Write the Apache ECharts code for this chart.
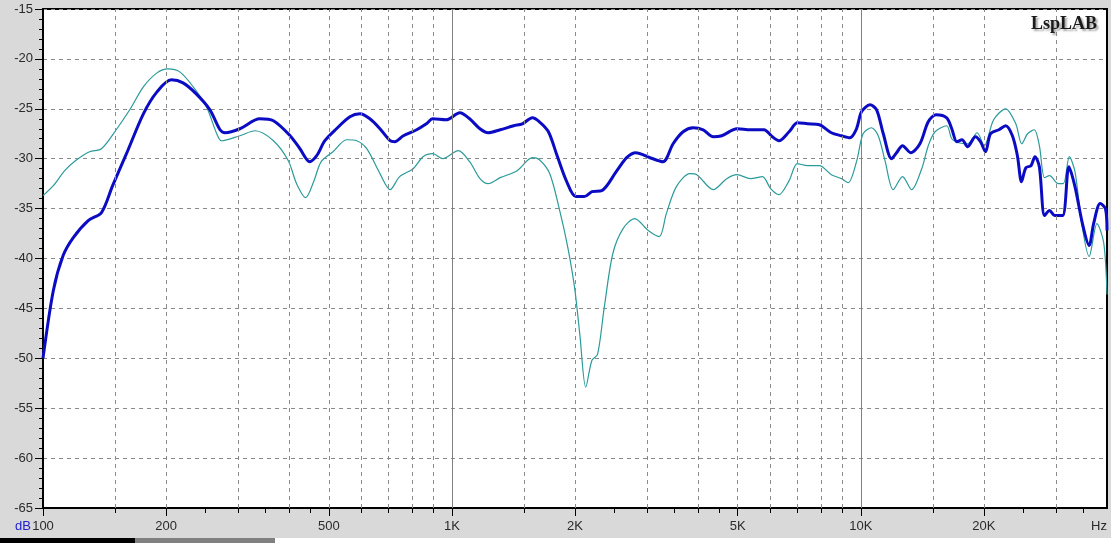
<!DOCTYPE html>
<html>
<head>
<meta charset="utf-8">
<script src="https://cdn.jsdelivr.net/npm/echarts@6/dist/echarts.min.js"></script>
<style>
  html, body { margin: 0; padding: 0; background: #d9d9d9; }
  #chart { width: 1111px; height: 543px; }
</style>
</head>
<body>
<div id="chart"></div>
<script>
// measured response, thick blue trace
const blueFreq = [100, 106, 112, 118.6, 129, 139, 148, 160, 176, 190, 206, 220, 237, 256, 271, 279, 303, 339, 366, 402, 425, 449, 467, 489, 522, 563, 596, 630, 667, 706, 725, 761, 820, 866, 898, 968, 1046, 1105, 1171, 1226, 1312, 1416, 1487, 1573, 1637, 1722, 1805, 1904, 2010, 2106, 2201, 2325, 2532, 2675, 2816, 3051, 3283, 3475, 3676, 3891, 4116, 4356, 4570, 4980, 5370, 5797, 6075, 6307, 6678, 6998, 7410, 7920, 8470, 8970, 9400, 9760, 10040, 10530, 10930, 11350, 11890, 12230, 12650, 13240, 13950, 14620, 15270, 16220, 16690, 17180, 17680, 18250, 19070, 19620, 20180, 20760, 21760, 22600, 23480, 24150, 24720, 25330, 26070, 26660, 27330, 28140, 28950, 29800, 31150, 32280, 33400, 34830, 36170, 37100, 38500, 39650, 40000]
const blueDb = [-50.0, -43.2, -39.7, -37.9, -36.2, -35.4, -32.7, -29.5, -25.5, -23.3, -22.1, -22.4, -23.5, -25.1, -27.1, -27.4, -27.0, -26.0, -26.2, -27.7, -29.0, -30.3, -29.7, -28.2, -27.0, -25.8, -25.5, -26.0, -27.0, -28.2, -28.3, -27.7, -27.1, -26.5, -26.0, -26.1, -25.4, -26.0, -27.0, -27.4, -27.1, -26.7, -26.5, -25.9, -26.3, -27.3, -29.6, -32.2, -33.8, -33.8, -33.3, -33.2, -31.2, -29.9, -29.4, -29.9, -30.3, -28.5, -27.3, -26.9, -27.1, -27.8, -27.7, -27.0, -27.1, -27.1, -27.8, -28.2, -27.3, -26.4, -26.5, -26.6, -27.4, -27.7, -27.9, -27.0, -25.3, -24.6, -25.1, -27.5, -30.0, -29.4, -28.7, -29.4, -28.5, -26.3, -25.6, -25.9, -27.0, -28.3, -28.1, -28.8, -27.8, -28.3, -29.3, -27.5, -27.1, -26.7, -27.7, -29.7, -32.3, -30.9, -30.7, -29.8, -30.8, -35.7, -35.2, -35.7, -35.7, -30.8, -32.8, -36.5, -38.7, -36.5, -34.5, -35.0, -37.2]

// measured response, thin teal trace
const tealFreq = [100, 106, 113, 120, 130, 139, 151, 163, 176, 190, 202, 216, 233, 251, 266, 273, 303, 330, 366, 398, 417, 439, 460, 479, 512, 553, 585, 619, 667, 706, 745, 804, 850, 898, 950, 1036, 1105, 1171, 1226, 1312, 1444, 1573, 1637, 1735, 1835, 1921, 1995, 2055, 2125, 2200, 2271, 2358, 2475, 2622, 2800, 3020, 3213, 3345, 3540, 3820, 3970, 4356, 4700, 4980, 5370, 5745, 6018, 6307, 6678, 6998, 7410, 7920, 8470, 8970, 9310, 9760, 10130, 10620, 11030, 11460, 12000, 12650, 13310, 14090, 14620, 15190, 16220, 16690, 17350, 18250, 19250, 20030, 21130, 22600, 23930, 24750, 25580, 26560, 27330, 28140, 28950, 30390, 31270, 32360, 33400, 34690, 36170, 37800, 39260, 40000]
const tealDb = [-33.7, -32.7, -31.2, -30.2, -29.3, -29.0, -27.1, -25.1, -22.8, -21.4, -21.0, -21.3, -22.8, -24.8, -27.5, -28.2, -27.7, -27.2, -28.2, -30.2, -32.5, -33.9, -32.2, -30.3, -29.3, -28.1, -28.2, -29.0, -31.5, -33.1, -31.8, -31.0, -29.8, -29.5, -30.0, -29.2, -30.3, -32.0, -32.5, -31.9, -31.2, -29.9, -30.1, -31.5, -35.2, -38.9, -42.9, -47.6, -52.9, -50.2, -49.6, -44.9, -39.5, -37.0, -36.0, -37.2, -37.8, -35.5, -32.8, -31.5, -31.6, -33.1, -32.0, -31.6, -32.0, -31.8, -33.0, -33.6, -32.2, -30.5, -30.7, -30.7, -31.6, -32.0, -32.4, -30.3, -27.5, -26.9, -27.7, -30.2, -33.1, -31.8, -33.1, -31.0, -28.7, -27.3, -26.7, -28.0, -28.4, -28.5, -27.4, -28.7, -26.1, -25.0, -26.5, -28.5, -27.5, -27.1, -28.7, -31.9, -31.7, -32.5, -32.5, -29.8, -31.3, -36.5, -39.8, -36.5, -38.4, -43.6]

// axis furniture
const labelFreqs = [100, 200, 500, 1000, 2000, 5000, 10000, 20000]
const tickFreqs = [150, 250, 300, 350, 400, 450, 600, 700, 800, 900, 1500, 2500, 3000, 3500, 4000, 4500, 6000, 7000, 8000, 9000, 15000, 25000, 30000, 35000]
const gridFreqs = [150, 200, 300, 400, 500, 600, 700, 800, 900, 1500, 2000, 3000, 4000, 5000, 6000, 7000, 8000, 9000, 15000, 20000, 30000]
const decadeFreqs = [1000, 10000]

const chart = echarts.init(document.getElementById('chart'), null, { renderer: 'canvas' })

const pairs = (xs, ys) => xs.map((x, i) => [x, ys[i]])

const fmtHz = v => (v >= 1000 ? (v / 1000) + 'K' : String(v))

const baseX = {
  type: 'log',
  logBase: 10,
  min: 100,
  max: 40000,
  position: 'bottom',
  splitLine: { show: false },
  minorTick: { show: false },
  minorSplitLine: { show: false }
}

chart.setOption({
  backgroundColor: '#d9d9d9',
  animation: false,
  textStyle: { fontFamily: 'Liberation Sans, Arial, sans-serif' },
  grid: {
    left: 43,
    right: 4,
    top: 9,
    bottom: 35,
    show: true,
    backgroundColor: '#ffffff',
    borderColor: '#000000',
    borderWidth: 2
  },
  xAxis: [
    Object.assign({}, baseX, {
      axisLine: { show: true, onZero: false, lineStyle: { color: '#000', width: 2 } },
      axisTick: {
        show: true,
        length: 8,
        customValues: labelFreqs,
        lineStyle: { color: '#000', width: 1 }
      },
      axisLabel: {
        customValues: labelFreqs,
        formatter: fmtHz,
        color: '#2a2a2a',
        fontSize: 13,
        margin: 12
      }
    }),
    Object.assign({}, baseX, {
      axisLine: { show: false, onZero: false },
      axisTick: {
        show: true,
        length: 5,
        customValues: tickFreqs,
        lineStyle: { color: '#000', width: 1 }
      },
      axisLabel: { show: false }
    })
  ],
  yAxis: {
    type: 'value',
    min: -65,
    max: -15,
    interval: 5,
    axisLine: { show: true, lineStyle: { color: '#000', width: 2 } },
    axisTick: { show: true, length: 8, lineStyle: { color: '#000' } },
    minorTick: { show: true, splitNumber: 5, length: 4, lineStyle: { color: '#000' } },
    axisLabel: { color: '#2a2a2a', fontSize: 13, margin: 10 },
    splitLine: { show: true, lineStyle: { color: '#8a8a8a', type: [4, 4], width: 1 } }
  },
  graphic: [
    {
      type: 'text',
      right: 14,
      top: 15,
      style: {
        text: 'LspLAB',
        font: 'bold 18px "Liberation Serif", "DejaVu Serif", serif',
        fill: '#1a1a1a',
        textShadowColor: 'rgba(0,0,0,0.35)',
        textShadowBlur: 2,
        textShadowOffsetX: 2,
        textShadowOffsetY: 2
      }
    },
    {
      type: 'text',
      left: 15,
      top: 520,
      style: { text: 'dB', font: '13px "Liberation Sans", Arial, sans-serif', fill: '#2020d0' }
    },
    {
      type: 'text',
      left: 1091,
      top: 520,
      style: { text: 'Hz', font: '13px "Liberation Sans", Arial, sans-serif', fill: '#2a2a2a' }
    },
    { type: 'rect', left: 0, top: 538, shape: { width: 1111, height: 5 }, style: { fill: '#ffffff' } },
    { type: 'rect', left: 0, top: 538, shape: { width: 135, height: 5 }, style: { fill: '#000000' } },
    { type: 'rect', left: 135, top: 538, shape: { width: 140, height: 5 }, style: { fill: '#808080' } }
  ],
  series: [
    {
      name: 'grid',
      type: 'line',
      data: [],
      silent: true,
      markLine: {
        silent: true,
        symbol: 'none',
        label: { show: false },
        animation: false,
        data: gridFreqs.map(f => ({ xAxis: f, lineStyle: { color: '#8a8a8a', type: [4, 4], width: 1 } }))
          .concat(decadeFreqs.map(f => ({ xAxis: f, lineStyle: { color: '#808080', type: 'solid', width: 1 } })))
      },
      z: 1
    },
    {
      name: 'teal',
      type: 'line',
      data: pairs(tealFreq, tealDb),
      showSymbol: false,
      smooth: 0.3,
      lineStyle: { color: '#2b9a9a', width: 1.2 },
      z: 2
    },
    {
      name: 'blue',
      type: 'line',
      data: pairs(blueFreq, blueDb),
      showSymbol: false,
      smooth: 0.3,
      lineStyle: { color: '#0b0bc4', width: 3 },
      z: 3
    }
  ]
})
</script>
</body>
</html>
